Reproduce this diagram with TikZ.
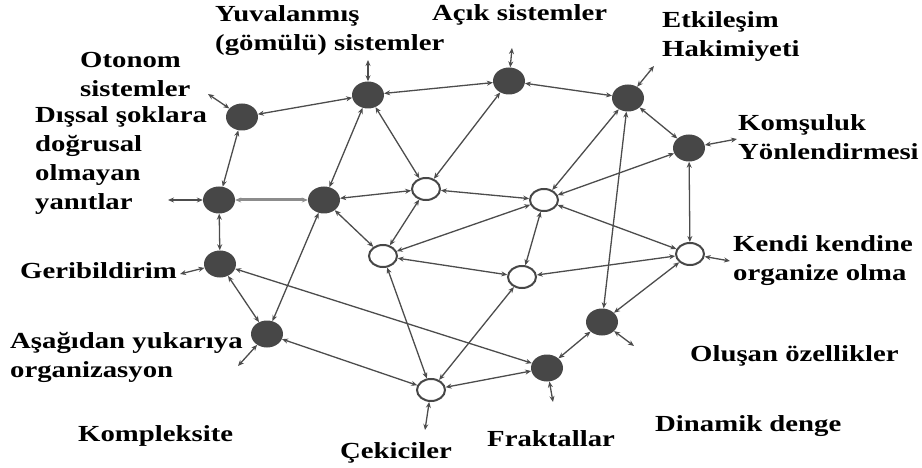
\documentclass[tikz,border=0pt]{standalone}
\usepackage{fontspec}
\setmainfont[FakeStretch=1.25]{Liberation Serif}
\usetikzlibrary{arrows.meta,shapes.geometric}

\definecolor{nodegray}{HTML}{474747}
\definecolor{linegray}{HTML}{4c4c4c}

\begin{document}
\begin{tikzpicture}[x=1pt,y=-1pt]
\useasboundingbox (0,0) rectangle (922,468);

% definitions
\tikzstyle{dark} = [ellipse, minimum width=32pt, minimum height=27pt, inner sep=0pt, fill=nodegray]

\tikzstyle{light} = [ellipse, minimum width=28pt, minimum height=22pt, inner sep=0pt, draw=nodegray, line width=2pt, fill=white]

\tikzstyle{term} = [anchor=west, align=left, inner sep=0pt, font={\fontsize{23}{29}\selectfont\bfseries}]

\tikzstyle{arrow} = [{Stealth[length=6pt,width=5pt]}-{Stealth[length=6pt,width=5pt]}, draw=linegray, line width=1.3pt]

\tikzstyle{wide} = [arrow, line width=3pt, draw=gray!90]

% the graph
\node (d1) [dark] at (242,117) {};
\node (d2) [dark] at (368,95) {};
\node (d3) [dark] at (509,81) {};
\node (d4) [dark] at (628,98) {};
\node (d5) [dark] at (689,148) {};
\node (d6) [dark] at (219,200) {};
\node (d7) [dark] at (324,200) {};
\node (d8) [dark] at (220,264) {};
\node (d9) [dark] at (267,334) {};
\node (d10) [dark] at (602,322) {};
\node (d11) [dark] at (547,368) {};

\node (w1) [light] at (426,189) {};
\node (w2) [light] at (544,200) {};
\node (w3) [light] at (383,256) {};
\node (w4) [light] at (522,277) {};
\node (w5) [light] at (690,254) {};
\node (w6) [light] at (431,390) {};

% loose ends
\coordinate (s1) at (208,94);
\coordinate (s2) at (368,60);
\coordinate (s3) at (512,48);
\coordinate (s4) at (654,66);
\coordinate (s5) at (737,139);
\coordinate (s6) at (168,200);
\coordinate (s7) at (180,274);
\coordinate (s8) at (238,366);
\coordinate (s9) at (730,261);
\coordinate (s10) at (634,346);
\coordinate (s11) at (553,402);
\coordinate (s12) at (425,430);

% terms
\node (t1) [term] at (80,74) {Otonom\\sistemler};
\node (t2) [term] at (215,31) {Yuvalanmış\\(gömülü) sistemler};
\node (t3) [term] at (432,15) {Açık sistemler};
\node (t4) [term] at (662,37) {Etkileşim\\Hakimiyeti};
\node (t5) [term] at (738,137) {Komşuluk\\Yönlendirmesi};
\node (t6) [term] at (35,161) {Dışsal şoklara\\doğrusal\\olmayan\\yanıtlar};
\node (t7) [term] at (20,271) {Geribildirim};
\node (t8) [term] at (10,357) {Aşağıdan yukarıya\\organizasyon};
\node (t9) [term] at (78,436) {Kompleksite};
\node (t10) [term] at (340,453) {Çekiciler};
\node (t11) [term] at (487,439) {Fraktallar};
\node (t12) [term] at (655,426) {Dinamik denge};
\node (t13) [term] at (690,356) {Oluşan özellikler};
\node (t14) [term] at (733,261) {Kendi kendine\\organize olma};

\draw [arrow] (d1) -- (d2);
\draw [arrow] (d1) -- (d6);
\draw [arrow] (d2) -- (d3);
\draw [arrow] (d2) -- (d7);
\draw [arrow] (d2) -- (w1);
\draw [arrow] (d3) -- (d4);
\draw [arrow] (d3) -- (w1);
\draw [arrow] (d4) -- (d5);
\draw [arrow] (d4) -- (w2);
\draw [arrow] (d4) -- (d10);
\draw [arrow] (d5) -- (w2);
\draw [arrow] (d5) -- (w5);
\draw [wide] (d6) -- (d7);
\draw [arrow] (d6) -- (d8);
\draw [arrow] (d7) -- (w1);
\draw [arrow] (d7) -- (w3);
\draw [arrow] (d7) -- (d9);
\draw [arrow] (d8) -- (d9);
\draw [arrow] (d8) -- (d11);
\draw [arrow] (d9) -- (w6);
\draw [arrow] (w1) -- (w2);
\draw [arrow] (w1) -- (w3);
\draw [arrow] (w2) -- (w3);
\draw [arrow] (w2) -- (w4);
\draw [arrow] (w2) -- (w5);
\draw [arrow] (w3) -- (w4);
\draw [arrow] (w3) -- (w6);
\draw [arrow] (w4) -- (w5);
\draw [arrow] (w4) -- (w6);
\draw [arrow] (w5) -- (d10);
\draw [arrow] (d10) -- (d11);
\draw [arrow] (d11) -- (w6);

\draw [arrow] (d1) -- (s1);
\draw [arrow] (d2) -- (s2);
\draw [arrow] (d3) -- (s3);
\draw [arrow] (d4) -- (s4);
\draw [arrow] (d5) -- (s5);
\draw [arrow] (d6) -- (s6);
\draw [arrow] (d8) -- (s7);
\draw [arrow] (d9) -- (s8);
\draw [arrow] (w5) -- (s9);
\draw [arrow] (d10) -- (s10);
\draw [arrow] (d11) -- (s11);
\draw [arrow] (w6) -- (s12);

\end{tikzpicture}
\end{document}
